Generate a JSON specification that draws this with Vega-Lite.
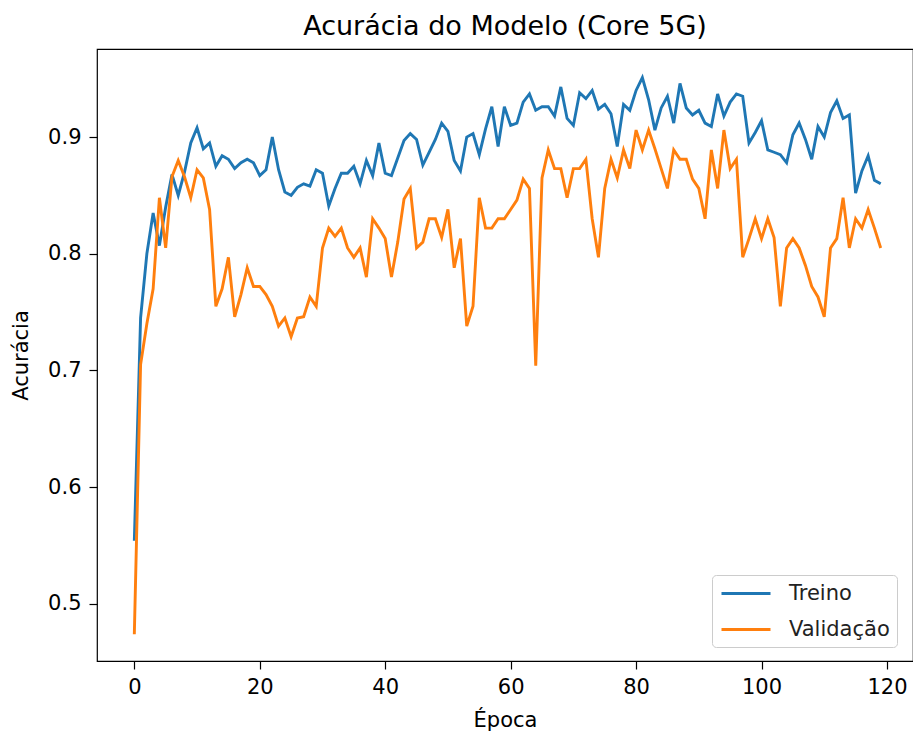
{
  "$schema": "https://vega.github.io/schema/vega-lite/v6.json",
  "autosize": "none",
  "width": 816,
  "height": 612,
  "padding": {"left": 97, "top": 49, "right": 0, "bottom": 79},
  "background": "white",
  "config": {
    "font": "DejaVu Sans",
    "view": {"stroke": "black", "strokeWidth": 1.2},
    "axis": {"grid": false, "domain": false, "tickColor": "black", "tickSize": 8, "tickWidth": 1.2, "labelFont": "DejaVu Sans", "labelFontSize": 21, "labelColor": "black", "titleFont": "DejaVu Sans", "titleFontSize": 21, "titleFontWeight": "normal", "titleColor": "black"}
  },
  "title": {"text": "Acurácia do Modelo (Core 5G)", "font": "DejaVu Sans", "fontSize": 27, "fontWeight": "normal", "color": "black", "offset": 8},
  "data": {"values": [
    {"epoca":0,"serie":"Treino","acc":0.554},{"epoca":1,"serie":"Treino","acc":0.745},{"epoca":2,"serie":"Treino","acc":0.800},{"epoca":3,"serie":"Treino","acc":0.835},{"epoca":4,"serie":"Treino","acc":0.807},
    {"epoca":5,"serie":"Treino","acc":0.840},{"epoca":6,"serie":"Treino","acc":0.868},{"epoca":7,"serie":"Treino","acc":0.850},{"epoca":8,"serie":"Treino","acc":0.870},{"epoca":9,"serie":"Treino","acc":0.895},
    {"epoca":10,"serie":"Treino","acc":0.908},{"epoca":11,"serie":"Treino","acc":0.890},{"epoca":12,"serie":"Treino","acc":0.895},{"epoca":13,"serie":"Treino","acc":0.875},{"epoca":14,"serie":"Treino","acc":0.884},
    {"epoca":15,"serie":"Treino","acc":0.881},{"epoca":16,"serie":"Treino","acc":0.873},{"epoca":17,"serie":"Treino","acc":0.878},{"epoca":18,"serie":"Treino","acc":0.881},{"epoca":19,"serie":"Treino","acc":0.878},
    {"epoca":20,"serie":"Treino","acc":0.867},{"epoca":21,"serie":"Treino","acc":0.872},{"epoca":22,"serie":"Treino","acc":0.900},{"epoca":23,"serie":"Treino","acc":0.872},{"epoca":24,"serie":"Treino","acc":0.853},
    {"epoca":25,"serie":"Treino","acc":0.850},{"epoca":26,"serie":"Treino","acc":0.857},{"epoca":27,"serie":"Treino","acc":0.860},{"epoca":28,"serie":"Treino","acc":0.858},{"epoca":29,"serie":"Treino","acc":0.872},
    {"epoca":30,"serie":"Treino","acc":0.869},{"epoca":31,"serie":"Treino","acc":0.841},{"epoca":32,"serie":"Treino","acc":0.856},{"epoca":33,"serie":"Treino","acc":0.869},{"epoca":34,"serie":"Treino","acc":0.869},
    {"epoca":35,"serie":"Treino","acc":0.875},{"epoca":36,"serie":"Treino","acc":0.860},{"epoca":37,"serie":"Treino","acc":0.880},{"epoca":38,"serie":"Treino","acc":0.867},{"epoca":39,"serie":"Treino","acc":0.895},
    {"epoca":40,"serie":"Treino","acc":0.869},{"epoca":41,"serie":"Treino","acc":0.867},{"epoca":42,"serie":"Treino","acc":0.882},{"epoca":43,"serie":"Treino","acc":0.897},{"epoca":44,"serie":"Treino","acc":0.903},
    {"epoca":45,"serie":"Treino","acc":0.898},{"epoca":46,"serie":"Treino","acc":0.876},{"epoca":47,"serie":"Treino","acc":0.887},{"epoca":48,"serie":"Treino","acc":0.898},{"epoca":49,"serie":"Treino","acc":0.912},
    {"epoca":50,"serie":"Treino","acc":0.905},{"epoca":51,"serie":"Treino","acc":0.880},{"epoca":52,"serie":"Treino","acc":0.871},{"epoca":53,"serie":"Treino","acc":0.900},{"epoca":54,"serie":"Treino","acc":0.903},
    {"epoca":55,"serie":"Treino","acc":0.885},{"epoca":56,"serie":"Treino","acc":0.907},{"epoca":57,"serie":"Treino","acc":0.926},{"epoca":58,"serie":"Treino","acc":0.892},{"epoca":59,"serie":"Treino","acc":0.926},
    {"epoca":60,"serie":"Treino","acc":0.910},{"epoca":61,"serie":"Treino","acc":0.912},{"epoca":62,"serie":"Treino","acc":0.930},{"epoca":63,"serie":"Treino","acc":0.937},{"epoca":64,"serie":"Treino","acc":0.923},
    {"epoca":65,"serie":"Treino","acc":0.926},{"epoca":66,"serie":"Treino","acc":0.926},{"epoca":67,"serie":"Treino","acc":0.918},{"epoca":68,"serie":"Treino","acc":0.943},{"epoca":69,"serie":"Treino","acc":0.916},
    {"epoca":70,"serie":"Treino","acc":0.910},{"epoca":71,"serie":"Treino","acc":0.938},{"epoca":72,"serie":"Treino","acc":0.933},{"epoca":73,"serie":"Treino","acc":0.940},{"epoca":74,"serie":"Treino","acc":0.924},
    {"epoca":75,"serie":"Treino","acc":0.928},{"epoca":76,"serie":"Treino","acc":0.920},{"epoca":77,"serie":"Treino","acc":0.892},{"epoca":78,"serie":"Treino","acc":0.928},{"epoca":79,"serie":"Treino","acc":0.923},
    {"epoca":80,"serie":"Treino","acc":0.940},{"epoca":81,"serie":"Treino","acc":0.951},{"epoca":82,"serie":"Treino","acc":0.932},{"epoca":83,"serie":"Treino","acc":0.906},{"epoca":84,"serie":"Treino","acc":0.925},
    {"epoca":85,"serie":"Treino","acc":0.935},{"epoca":86,"serie":"Treino","acc":0.912},{"epoca":87,"serie":"Treino","acc":0.946},{"epoca":88,"serie":"Treino","acc":0.925},{"epoca":89,"serie":"Treino","acc":0.919},
    {"epoca":90,"serie":"Treino","acc":0.923},{"epoca":91,"serie":"Treino","acc":0.912},{"epoca":92,"serie":"Treino","acc":0.909},{"epoca":93,"serie":"Treino","acc":0.937},{"epoca":94,"serie":"Treino","acc":0.918},
    {"epoca":95,"serie":"Treino","acc":0.930},{"epoca":96,"serie":"Treino","acc":0.937},{"epoca":97,"serie":"Treino","acc":0.935},{"epoca":98,"serie":"Treino","acc":0.895},{"epoca":99,"serie":"Treino","acc":0.904},
    {"epoca":100,"serie":"Treino","acc":0.914},{"epoca":101,"serie":"Treino","acc":0.889},{"epoca":102,"serie":"Treino","acc":0.887},{"epoca":103,"serie":"Treino","acc":0.885},{"epoca":104,"serie":"Treino","acc":0.878},
    {"epoca":105,"serie":"Treino","acc":0.902},{"epoca":106,"serie":"Treino","acc":0.912},{"epoca":107,"serie":"Treino","acc":0.898},{"epoca":108,"serie":"Treino","acc":0.881},{"epoca":109,"serie":"Treino","acc":0.909},
    {"epoca":110,"serie":"Treino","acc":0.900},{"epoca":111,"serie":"Treino","acc":0.921},{"epoca":112,"serie":"Treino","acc":0.931},{"epoca":113,"serie":"Treino","acc":0.916},{"epoca":114,"serie":"Treino","acc":0.919},
    {"epoca":115,"serie":"Treino","acc":0.852},{"epoca":116,"serie":"Treino","acc":0.871},{"epoca":117,"serie":"Treino","acc":0.884},{"epoca":118,"serie":"Treino","acc":0.863},{"epoca":119,"serie":"Treino","acc":0.860},
    {"epoca":0,"serie":"Validação","acc":0.474},{"epoca":1,"serie":"Validação","acc":0.705},{"epoca":2,"serie":"Validação","acc":0.740},{"epoca":3,"serie":"Validação","acc":0.770},{"epoca":4,"serie":"Validação","acc":0.848},
    {"epoca":5,"serie":"Validação","acc":0.805},{"epoca":6,"serie":"Validação","acc":0.866},{"epoca":7,"serie":"Validação","acc":0.880},{"epoca":8,"serie":"Validação","acc":0.866},{"epoca":9,"serie":"Validação","acc":0.848},
    {"epoca":10,"serie":"Validação","acc":0.872},{"epoca":11,"serie":"Validação","acc":0.865},{"epoca":12,"serie":"Validação","acc":0.838},{"epoca":13,"serie":"Validação","acc":0.755},{"epoca":14,"serie":"Validação","acc":0.770},
    {"epoca":15,"serie":"Validação","acc":0.797},{"epoca":16,"serie":"Validação","acc":0.746},{"epoca":17,"serie":"Validação","acc":0.765},{"epoca":18,"serie":"Validação","acc":0.788},{"epoca":19,"serie":"Validação","acc":0.772},
    {"epoca":20,"serie":"Validação","acc":0.772},{"epoca":21,"serie":"Validação","acc":0.765},{"epoca":22,"serie":"Validação","acc":0.755},{"epoca":23,"serie":"Validação","acc":0.738},{"epoca":24,"serie":"Validação","acc":0.745},
    {"epoca":25,"serie":"Validação","acc":0.729},{"epoca":26,"serie":"Validação","acc":0.745},{"epoca":27,"serie":"Validação","acc":0.746},{"epoca":28,"serie":"Validação","acc":0.763},{"epoca":29,"serie":"Validação","acc":0.755},
    {"epoca":30,"serie":"Validação","acc":0.805},{"epoca":31,"serie":"Validação","acc":0.822},{"epoca":32,"serie":"Validação","acc":0.815},{"epoca":33,"serie":"Validação","acc":0.822},{"epoca":34,"serie":"Validação","acc":0.805},
    {"epoca":35,"serie":"Validação","acc":0.797},{"epoca":36,"serie":"Validação","acc":0.805},{"epoca":37,"serie":"Validação","acc":0.780},{"epoca":38,"serie":"Validação","acc":0.830},{"epoca":39,"serie":"Validação","acc":0.822},
    {"epoca":40,"serie":"Validação","acc":0.813},{"epoca":41,"serie":"Validação","acc":0.780},{"epoca":42,"serie":"Validação","acc":0.810},{"epoca":43,"serie":"Validação","acc":0.847},{"epoca":44,"serie":"Validação","acc":0.856},
    {"epoca":45,"serie":"Validação","acc":0.805},{"epoca":46,"serie":"Validação","acc":0.810},{"epoca":47,"serie":"Validação","acc":0.830},{"epoca":48,"serie":"Validação","acc":0.830},{"epoca":49,"serie":"Validação","acc":0.814},
    {"epoca":50,"serie":"Validação","acc":0.838},{"epoca":51,"serie":"Validação","acc":0.788},{"epoca":52,"serie":"Validação","acc":0.813},{"epoca":53,"serie":"Validação","acc":0.738},{"epoca":54,"serie":"Validação","acc":0.755},
    {"epoca":55,"serie":"Validação","acc":0.848},{"epoca":56,"serie":"Validação","acc":0.822},{"epoca":57,"serie":"Validação","acc":0.822},{"epoca":58,"serie":"Validação","acc":0.830},{"epoca":59,"serie":"Validação","acc":0.830},
    {"epoca":60,"serie":"Validação","acc":0.838},{"epoca":61,"serie":"Validação","acc":0.846},{"epoca":62,"serie":"Validação","acc":0.864},{"epoca":63,"serie":"Validação","acc":0.856},{"epoca":64,"serie":"Validação","acc":0.704},
    {"epoca":65,"serie":"Validação","acc":0.865},{"epoca":66,"serie":"Validação","acc":0.889},{"epoca":67,"serie":"Validação","acc":0.873},{"epoca":68,"serie":"Validação","acc":0.873},{"epoca":69,"serie":"Validação","acc":0.848},
    {"epoca":70,"serie":"Validação","acc":0.873},{"epoca":71,"serie":"Validação","acc":0.873},{"epoca":72,"serie":"Validação","acc":0.881},{"epoca":73,"serie":"Validação","acc":0.830},{"epoca":74,"serie":"Validação","acc":0.797},
    {"epoca":75,"serie":"Validação","acc":0.856},{"epoca":76,"serie":"Validação","acc":0.881},{"epoca":77,"serie":"Validação","acc":0.865},{"epoca":78,"serie":"Validação","acc":0.889},{"epoca":79,"serie":"Validação","acc":0.873},
    {"epoca":80,"serie":"Validação","acc":0.906},{"epoca":81,"serie":"Validação","acc":0.889},{"epoca":82,"serie":"Validação","acc":0.906},{"epoca":83,"serie":"Validação","acc":0.890},{"epoca":84,"serie":"Validação","acc":0.873},
    {"epoca":85,"serie":"Validação","acc":0.856},{"epoca":86,"serie":"Validação","acc":0.889},{"epoca":87,"serie":"Validação","acc":0.881},{"epoca":88,"serie":"Validação","acc":0.881},{"epoca":89,"serie":"Validação","acc":0.864},
    {"epoca":90,"serie":"Validação","acc":0.856},{"epoca":91,"serie":"Validação","acc":0.830},{"epoca":92,"serie":"Validação","acc":0.889},{"epoca":93,"serie":"Validação","acc":0.856},{"epoca":94,"serie":"Validação","acc":0.906},
    {"epoca":95,"serie":"Validação","acc":0.873},{"epoca":96,"serie":"Validação","acc":0.881},{"epoca":97,"serie":"Validação","acc":0.797},{"epoca":98,"serie":"Validação","acc":0.813},{"epoca":99,"serie":"Validação","acc":0.830},
    {"epoca":100,"serie":"Validação","acc":0.813},{"epoca":101,"serie":"Validação","acc":0.830},{"epoca":102,"serie":"Validação","acc":0.814},{"epoca":103,"serie":"Validação","acc":0.755},{"epoca":104,"serie":"Validação","acc":0.805},
    {"epoca":105,"serie":"Validação","acc":0.813},{"epoca":106,"serie":"Validação","acc":0.805},{"epoca":107,"serie":"Validação","acc":0.790},{"epoca":108,"serie":"Validação","acc":0.772},{"epoca":109,"serie":"Validação","acc":0.763},
    {"epoca":110,"serie":"Validação","acc":0.746},{"epoca":111,"serie":"Validação","acc":0.805},{"epoca":112,"serie":"Validação","acc":0.813},{"epoca":113,"serie":"Validação","acc":0.848},{"epoca":114,"serie":"Validação","acc":0.805},
    {"epoca":115,"serie":"Validação","acc":0.830},{"epoca":116,"serie":"Validação","acc":0.822},{"epoca":117,"serie":"Validação","acc":0.838},{"epoca":118,"serie":"Validação","acc":0.822},{"epoca":119,"serie":"Validação","acc":0.805}
  ]},
  "mark": {"type": "line", "strokeWidth": 2.9, "clip": true},
  "encoding": {
    "x": {"field": "epoca", "type": "quantitative", "title": "Época",
      "scale": {"domain": [-5.95, 124.15], "nice": false, "zero": false},
      "axis": {"values": [0, 20, 40, 60, 80, 100, 120], "labelPadding": 7, "titlePadding": 12, "labelFlush": false}},
    "y": {"field": "acc", "type": "quantitative", "title": "Acurácia",
      "scale": {"domain": [0.451, 0.9755], "nice": false, "zero": false},
      "axis": {"values": [0.5, 0.6, 0.7, 0.8, 0.9], "format": ".1f", "labelPadding": 8, "titlePadding": 16}},
    "color": {"field": "serie", "type": "nominal",
      "scale": {"domain": ["Treino", "Validação"], "range": ["#1f77b4", "#ff7f0e"]},
      "legend": {"title": null, "orient": "none", "legendX": 615, "legendY": 526,
        "symbolType": "M-0.9,0H4", "symbolSize": 400, "symbolStrokeWidth": 2.9, "symbolFillColor": "transparent",
        "labelFont": "DejaVu Sans", "labelFontSize": 21, "labelColor": "#222",
        "rowPadding": 14, "labelOffset": 47, "padding": 7,
        "strokeColor": "#cccccc", "fillColor": "white", "cornerRadius": 4}}
  }
}
